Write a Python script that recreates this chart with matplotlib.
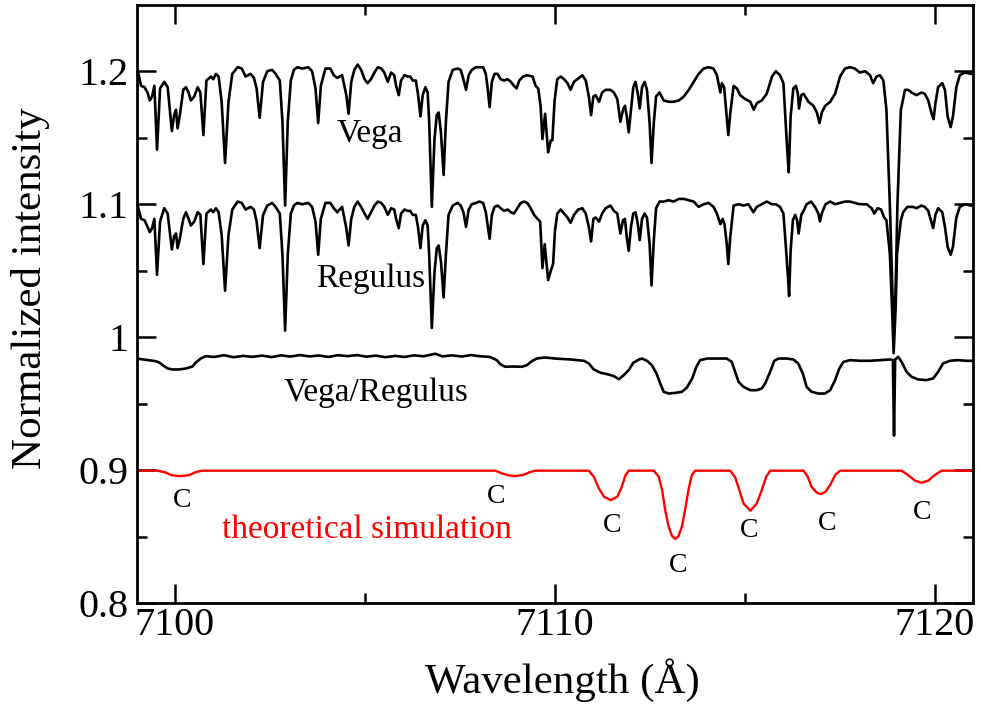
import matplotlib
matplotlib.use("Agg")
import matplotlib.pyplot as plt
from matplotlib.ticker import FixedLocator

plt.rcParams['font.family'] = ['Liberation Serif', 'DejaVu Serif']

# ---------------- data ----------------
vega_wl = [7099.03, 7099.12, 7099.21, 7099.29, 7099.35, 7099.41, 7099.47, 7099.54, 7099.62, 7099.73,
           7099.82, 7099.93, 7099.99, 7100.04, 7100.08, 7100.14, 7100.23, 7100.30, 7100.37, 7100.43,
           7100.52, 7100.61, 7100.68, 7100.76, 7100.84, 7100.96, 7101.02, 7101.09, 7101.16, 7101.24,
           7101.33, 7101.42, 7101.52, 7101.66, 7101.77, 7101.87, 7102.00, 7102.09, 7102.16, 7102.24,
           7102.33, 7102.44, 7102.57, 7102.66, 7102.77, 7102.84, 7102.91, 7102.98, 7103.06, 7103.14,
           7103.23, 7103.36, 7103.52, 7103.62, 7103.71, 7103.78, 7103.85, 7103.97, 7104.10, 7104.19,
           7104.28, 7104.41, 7104.52, 7104.58, 7104.65, 7104.73, 7104.82, 7104.91, 7105.00, 7105.08,
           7105.17, 7105.26, 7105.35, 7105.44, 7105.52, 7105.61, 7105.70, 7105.78, 7105.83, 7105.90,
           7105.96, 7106.05, 7106.14, 7106.20, 7106.27, 7106.35, 7106.41, 7106.47, 7106.53, 7106.60,
           7106.66, 7106.70, 7106.77, 7106.84, 7106.90, 7106.95, 7107.01, 7107.08, 7107.14, 7107.21,
           7107.32, 7107.45, 7107.53, 7107.60, 7107.67, 7107.74, 7107.82, 7107.93, 7108.02, 7108.12,
           7108.19, 7108.24, 7108.29, 7108.35, 7108.42, 7108.50, 7108.58, 7108.67, 7108.76, 7108.85,
           7108.93, 7109.00, 7109.07, 7109.17, 7109.28, 7109.42, 7109.50, 7109.57, 7109.63, 7109.68,
           7109.75, 7109.83, 7109.90, 7109.94, 7110.00, 7110.07, 7110.16, 7110.25, 7110.34, 7110.42,
           7110.51, 7110.60, 7110.73, 7110.82, 7110.90, 7110.96, 7111.02, 7111.08, 7111.17, 7111.25,
           7111.34, 7111.47, 7111.56, 7111.65, 7111.73, 7111.80, 7111.85, 7111.90, 7111.95, 7112.01,
           7112.07, 7112.13, 7112.19, 7112.24, 7112.30, 7112.37, 7112.43, 7112.50, 7112.55, 7112.61,
           7112.67, 7112.76, 7112.87, 7113.00, 7113.13, 7113.27, 7113.40, 7113.53, 7113.66, 7113.79,
           7113.92, 7114.05, 7114.18, 7114.27, 7114.36, 7114.40, 7114.46, 7114.52, 7114.57, 7114.62,
           7114.71, 7114.80, 7114.88, 7115.02, 7115.15, 7115.24, 7115.32, 7115.45, 7115.58, 7115.72,
           7115.82, 7115.93, 7116.02, 7116.07, 7116.12, 7116.16, 7116.21, 7116.28, 7116.35, 7116.40,
           7116.43, 7116.49, 7116.55, 7116.68, 7116.81, 7116.90, 7116.97, 7117.03, 7117.12, 7117.25,
           7117.38, 7117.51, 7117.64, 7117.77, 7117.90, 7118.03, 7118.17, 7118.30, 7118.38, 7118.47,
           7118.56, 7118.65, 7118.73, 7118.82, 7118.89, 7118.92, 7118.97, 7119.02, 7119.11, 7119.22,
           7119.30, 7119.39, 7119.52, 7119.65, 7119.74, 7119.83, 7119.92, 7119.97, 7120.02, 7120.09,
           7120.20, 7120.27, 7120.34, 7120.42, 7120.48, 7120.57, 7120.66, 7120.79, 7120.96]
vega_int = [1.201, 1.189, 1.188, 1.184, 1.178, 1.181, 1.189, 1.141, 1.187, 1.192,
            1.188, 1.155, 1.167, 1.171, 1.157, 1.167, 1.186, 1.188, 1.184, 1.178,
            1.181, 1.188, 1.184, 1.152, 1.193, 1.196, 1.194, 1.198, 1.196, 1.177,
            1.131, 1.177, 1.198, 1.203, 1.202, 1.196, 1.198, 1.195, 1.187, 1.165,
            1.192, 1.200, 1.201, 1.198, 1.193, 1.162, 1.099, 1.162, 1.193, 1.201,
            1.203, 1.202, 1.203, 1.200, 1.187, 1.161, 1.189, 1.202, 1.202, 1.197,
            1.195, 1.197, 1.182, 1.168, 1.192, 1.201, 1.205, 1.201, 1.194, 1.191,
            1.194, 1.199, 1.203, 1.202, 1.199, 1.192, 1.199, 1.197, 1.189, 1.182,
            1.193, 1.197, 1.196, 1.196, 1.193, 1.193, 1.182, 1.166, 1.182, 1.188,
            1.184, 1.162, 1.098, 1.149, 1.167, 1.169, 1.154, 1.122, 1.162, 1.192,
            1.201, 1.202, 1.201, 1.194, 1.186, 1.197, 1.201, 1.203, 1.203, 1.203,
            1.198, 1.187, 1.173, 1.192, 1.198, 1.198, 1.194, 1.193, 1.194, 1.192,
            1.189, 1.187, 1.193, 1.196, 1.197, 1.196, 1.189, 1.187, 1.174, 1.149,
            1.168, 1.139, 1.148, 1.148, 1.178, 1.194, 1.196, 1.194, 1.191, 1.186,
            1.192, 1.194, 1.197, 1.193, 1.181, 1.167, 1.181, 1.182, 1.177, 1.184,
            1.186, 1.186, 1.184, 1.179, 1.162, 1.171, 1.174, 1.166, 1.154, 1.171,
            1.188, 1.192, 1.183, 1.172, 1.188, 1.192, 1.186, 1.161, 1.131, 1.161,
            1.181, 1.184, 1.178, 1.177, 1.177, 1.178, 1.181, 1.186, 1.192, 1.198,
            1.202, 1.203, 1.202, 1.197, 1.184, 1.191, 1.188, 1.168, 1.152, 1.168,
            1.189, 1.187, 1.182, 1.179, 1.177, 1.171, 1.176, 1.178, 1.183, 1.196,
            1.200, 1.197, 1.191, 1.166, 1.141, 1.124, 1.166, 1.187, 1.189, 1.183,
            1.172, 1.182, 1.183, 1.177, 1.174, 1.169, 1.161, 1.169, 1.174, 1.177,
            1.183, 1.196, 1.202, 1.203, 1.202, 1.199, 1.200, 1.197, 1.191, 1.196,
            1.197, 1.193, 1.171, 1.100, 1.033, 1.008, 1.033, 1.100, 1.171, 1.186,
            1.186, 1.184, 1.182, 1.184, 1.183, 1.178, 1.168, 1.164, 1.176, 1.188,
            1.191, 1.186, 1.166, 1.158, 1.166, 1.188, 1.197, 1.199, 1.198]

regulus_wl = [7099.03, 7099.12, 7099.21, 7099.29, 7099.35, 7099.41, 7099.47, 7099.54, 7099.62, 7099.73,
              7099.82, 7099.93, 7099.99, 7100.04, 7100.08, 7100.14, 7100.23, 7100.30, 7100.37, 7100.43,
              7100.52, 7100.61, 7100.68, 7100.76, 7100.84, 7100.96, 7101.02, 7101.09, 7101.16, 7101.24,
              7101.33, 7101.42, 7101.52, 7101.66, 7101.77, 7101.87, 7102.00, 7102.09, 7102.16, 7102.24,
              7102.33, 7102.44, 7102.57, 7102.66, 7102.77, 7102.84, 7102.91, 7102.98, 7103.06, 7103.14,
              7103.23, 7103.36, 7103.52, 7103.62, 7103.71, 7103.78, 7103.85, 7103.97, 7104.10, 7104.19,
              7104.28, 7104.41, 7104.52, 7104.58, 7104.65, 7104.73, 7104.82, 7104.91, 7105.00, 7105.08,
              7105.17, 7105.26, 7105.35, 7105.44, 7105.52, 7105.61, 7105.70, 7105.78, 7105.83, 7105.90,
              7105.96, 7106.05, 7106.14, 7106.20, 7106.27, 7106.35, 7106.41, 7106.47, 7106.53, 7106.60,
              7106.66, 7106.70, 7106.77, 7106.84, 7106.90, 7106.95, 7107.01, 7107.08, 7107.14, 7107.21,
              7107.32, 7107.45, 7107.53, 7107.60, 7107.67, 7107.74, 7107.82, 7107.93, 7108.02, 7108.12,
              7108.19, 7108.24, 7108.29, 7108.35, 7108.42, 7108.50, 7108.58, 7108.67, 7108.76, 7108.85,
              7108.93, 7109.02, 7109.11, 7109.20, 7109.28, 7109.37, 7109.46, 7109.55, 7109.62, 7109.68,
              7109.74, 7109.83, 7109.90, 7109.96, 7110.01, 7110.07, 7110.16, 7110.25, 7110.34, 7110.42,
              7110.51, 7110.62, 7110.73, 7110.82, 7110.90, 7110.96, 7111.02, 7111.08, 7111.17, 7111.25,
              7111.34, 7111.47, 7111.56, 7111.65, 7111.73, 7111.80, 7111.85, 7111.90, 7111.95, 7112.01,
              7112.07, 7112.13, 7112.19, 7112.24, 7112.30, 7112.37, 7112.43, 7112.50, 7112.55, 7112.61,
              7112.67, 7112.76, 7112.87, 7113.00, 7113.13, 7113.27, 7113.40, 7113.53, 7113.66, 7113.79,
              7113.92, 7114.05, 7114.18, 7114.27, 7114.36, 7114.42, 7114.47, 7114.53, 7114.57, 7114.62,
              7114.71, 7114.84, 7114.97, 7115.10, 7115.23, 7115.32, 7115.45, 7115.58, 7115.72, 7115.82,
              7115.93, 7116.02, 7116.08, 7116.14, 7116.17, 7116.21, 7116.27, 7116.33, 7116.38, 7116.42,
              7116.49, 7116.55, 7116.63, 7116.75, 7116.85, 7116.94, 7116.98, 7117.04, 7117.13, 7117.25,
              7117.38, 7117.51, 7117.64, 7117.77, 7117.90, 7118.03, 7118.21, 7118.34, 7118.41, 7118.50,
              7118.59, 7118.67, 7118.73, 7118.82, 7118.88, 7118.92, 7118.97, 7119.01, 7119.11, 7119.17,
              7119.28, 7119.43, 7119.52, 7119.65, 7119.74, 7119.83, 7119.90, 7119.96, 7120.02, 7120.09,
              7120.20, 7120.27, 7120.34, 7120.42, 7120.48, 7120.57, 7120.66, 7120.79, 7120.96]
regulus_int = [1.099, 1.089, 1.088, 1.083, 1.079, 1.082, 1.089, 1.047, 1.087, 1.097,
               1.093, 1.066, 1.076, 1.078, 1.067, 1.074, 1.089, 1.094, 1.089, 1.084,
               1.087, 1.094, 1.092, 1.055, 1.093, 1.096, 1.094, 1.097, 1.094, 1.077,
               1.035, 1.077, 1.096, 1.102, 1.101, 1.096, 1.098, 1.096, 1.087, 1.067,
               1.092, 1.099, 1.101, 1.098, 1.093, 1.062, 1.005, 1.062, 1.093, 1.099,
               1.101, 1.100, 1.101, 1.098, 1.087, 1.062, 1.089, 1.101, 1.101, 1.097,
               1.094, 1.098, 1.082, 1.069, 1.089, 1.098, 1.102, 1.098, 1.093, 1.089,
               1.094, 1.099, 1.102, 1.101, 1.098, 1.092, 1.097, 1.096, 1.089, 1.082,
               1.093, 1.096, 1.095, 1.095, 1.092, 1.092, 1.082, 1.067, 1.084, 1.088,
               1.084, 1.062, 1.007, 1.049, 1.067, 1.069, 1.057, 1.030, 1.062, 1.092,
               1.099, 1.101, 1.099, 1.094, 1.083, 1.096, 1.100, 1.101, 1.102, 1.101,
               1.094, 1.084, 1.074, 1.092, 1.098, 1.099, 1.097, 1.095, 1.096, 1.094,
               1.093, 1.097, 1.101, 1.102, 1.101, 1.097, 1.092, 1.089, 1.087, 1.052,
               1.070, 1.043, 1.050, 1.055, 1.080, 1.093, 1.096, 1.093, 1.090, 1.086,
               1.092, 1.096, 1.097, 1.093, 1.083, 1.072, 1.089, 1.090, 1.087, 1.093,
               1.097, 1.099, 1.095, 1.093, 1.078, 1.088, 1.089, 1.075, 1.065, 1.083,
               1.093, 1.094, 1.085, 1.073, 1.089, 1.093, 1.090, 1.070, 1.039, 1.073,
               1.097, 1.102, 1.102, 1.103, 1.102, 1.104, 1.104, 1.103, 1.102, 1.098,
               1.100, 1.101, 1.098, 1.093, 1.085, 1.089, 1.085, 1.070, 1.055, 1.075,
               1.099, 1.100, 1.099, 1.100, 1.094, 1.098, 1.100, 1.102, 1.100, 1.100,
               1.098, 1.093, 1.070, 1.045, 1.031, 1.065, 1.088, 1.092, 1.088, 1.078,
               1.092, 1.095, 1.100, 1.102, 1.098, 1.093, 1.087, 1.094, 1.100, 1.102,
               1.100, 1.101, 1.102, 1.102, 1.101, 1.100, 1.100, 1.097, 1.093, 1.097,
               1.096, 1.090, 1.088, 1.063, 1.020, 0.988, 1.020, 1.063, 1.088, 1.094,
               1.098, 1.098, 1.097, 1.099, 1.098, 1.095, 1.088, 1.082, 1.092, 1.097,
               1.094, 1.083, 1.068, 1.062, 1.068, 1.090, 1.098, 1.100, 1.099]

ratio_wl = [7099.00, 7099.25, 7099.51, 7099.60, 7099.69, 7099.82, 7099.95, 7100.12, 7100.30, 7100.47,
            7100.56, 7100.69, 7100.82, 7101.05, 7101.30, 7101.55, 7101.80, 7102.05, 7102.30, 7102.55,
            7102.80, 7103.05, 7103.30, 7103.55, 7103.80, 7104.05, 7104.30, 7104.55, 7104.80, 7105.05,
            7105.30, 7105.55, 7105.80, 7106.05, 7106.30, 7106.55, 7106.86, 7107.05, 7107.30, 7107.55,
            7107.80, 7108.05, 7108.30, 7108.48, 7108.57, 7108.70, 7108.90, 7109.14, 7109.27, 7109.40,
            7109.53, 7109.75, 7110.01, 7110.42, 7110.77, 7110.90, 7111.03, 7111.21, 7111.38, 7111.56,
            7111.69, 7111.82, 7111.95, 7112.07, 7112.22, 7112.30, 7112.43, 7112.56, 7112.68, 7112.78,
            7112.87, 7113.00, 7113.18, 7113.35, 7113.48, 7113.62, 7113.73, 7113.83, 7114.01, 7114.27,
            7114.53, 7114.66, 7114.75, 7114.84, 7114.97, 7115.15, 7115.32, 7115.45, 7115.54, 7115.67,
            7115.78, 7115.89, 7116.11, 7116.28, 7116.41, 7116.53, 7116.63, 7116.76, 7116.94, 7117.11,
            7117.25, 7117.38, 7117.49, 7117.60, 7117.77, 7118.03, 7118.30, 7118.56, 7118.82, 7118.90,
            7118.93, 7118.96, 7119.04, 7119.13, 7119.26, 7119.39, 7119.56, 7119.78, 7119.96, 7120.09,
            7120.22, 7120.40, 7120.61, 7120.83, 7121.00]
ratio_int = [0.9840, 0.9830, 0.9820, 0.9810, 0.9790, 0.9765, 0.9758, 0.9758, 0.9765, 0.9780,
             0.9810, 0.9840, 0.9858, 0.9852, 0.9865, 0.9850, 0.9860, 0.9853, 0.9862, 0.9851,
             0.9864, 0.9855, 0.9866, 0.9856, 0.9863, 0.9852, 0.9865, 0.9858, 0.9866, 0.9854,
             0.9862, 0.9850, 0.9860, 0.9852, 0.9864, 0.9857, 0.9876, 0.9856, 0.9864, 0.9855,
             0.9866, 0.9857, 0.9852, 0.9828, 0.9798, 0.9778, 0.9780, 0.9778, 0.9790, 0.9820,
             0.9840, 0.9848, 0.9840, 0.9833, 0.9823, 0.9803, 0.9758, 0.9733, 0.9723, 0.9708,
             0.9685, 0.9715, 0.9753, 0.9808, 0.9833, 0.9840, 0.9823, 0.9790, 0.9728, 0.9652,
             0.9590, 0.9577, 0.9582, 0.9590, 0.9622, 0.9690, 0.9778, 0.9828, 0.9840, 0.9840,
             0.9840, 0.9815, 0.9740, 0.9665, 0.9627, 0.9602, 0.9602, 0.9615, 0.9652, 0.9740,
             0.9823, 0.9840, 0.9840, 0.9833, 0.9803, 0.9728, 0.9627, 0.9590, 0.9577, 0.9577,
             0.9602, 0.9678, 0.9765, 0.9815, 0.9828, 0.9823, 0.9823, 0.9828, 0.9833, 0.9828,
             0.9260, 0.9833, 0.9853, 0.9815, 0.9740, 0.9703, 0.9683, 0.9678, 0.9690, 0.9740,
             0.9803, 0.9823, 0.9828, 0.9823, 0.9823]

sim_wl = [7099.00, 7099.55, 7099.75, 7099.92, 7100.15, 7100.38, 7100.55, 7100.72,
          7108.44, 7108.61, 7108.79, 7108.96, 7109.18, 7109.35, 7109.49,
          7110.90, 7111.03, 7111.165, 7111.30, 7111.47, 7111.65, 7111.76, 7111.86, 7111.95,
          7112.61, 7112.74, 7112.83, 7112.91, 7113.00, 7113.09, 7113.18, 7113.26, 7113.35, 7113.44,
          7113.53, 7113.61, 7113.70,
          7114.62, 7114.75, 7114.86, 7114.97, 7115.15, 7115.32, 7115.45, 7115.57, 7115.67,
          7116.55, 7116.66, 7116.76, 7116.90, 7117.01, 7117.13, 7117.25, 7117.38, 7117.51,
          7119.13, 7119.30, 7119.48, 7119.65, 7119.83, 7120.00, 7120.18, 7121.00]
sim_int = [0.8997, 0.8997, 0.8985, 0.8963, 0.8956, 0.8963, 0.8985, 0.8997,
           0.8997, 0.8977, 0.8962, 0.8956, 0.8966, 0.8986, 0.8997,
           0.8997, 0.8952, 0.8864, 0.8801, 0.8776, 0.8801, 0.8870, 0.8960, 0.8997,
           0.8997, 0.8952, 0.8851, 0.8701, 0.8576, 0.8506, 0.8483, 0.8506, 0.8576, 0.8714,
           0.8864, 0.8964, 0.8997,
           0.8997, 0.8947, 0.8851, 0.8751, 0.8696, 0.8751, 0.8851, 0.8952, 0.8997,
           0.8997, 0.8952, 0.8876, 0.8831, 0.8821, 0.8839, 0.8889, 0.8964, 0.8997,
           0.8997, 0.8964, 0.8922, 0.8906, 0.8922, 0.8964, 0.8997, 0.8997]

c_label_wl = [7100.19, 7108.46, 7111.51, 7113.24, 7115.12, 7117.18, 7119.67]
c_label_int = [0.8727, 0.8751, 0.8539, 0.8233, 0.8501, 0.8551, 0.8633]

x_ticks = [7100, 7110, 7120]
x_minor = [7105, 7115]
y_ticks = [0.8, 0.9, 1.0, 1.1, 1.2]
y_tick_labels = ["0.8", "0.9", "1", "1.1", "1.2"]
y_minor = [0.85, 0.95, 1.05, 1.15]

# ---------------- figure ----------------
W, H = 981, 704
fig = plt.figure(figsize=(W / 100, H / 100), dpi=100)
L, R, B, T = 136.5, 972.7, 603.3, 4.7
ax = fig.add_axes([L / W, 1 - B / H, (R - L) / W, (B - T) / H])

lw = 1.9
ax.plot(vega_wl, vega_int, color='black', lw=lw, solid_joinstyle='round')
ax.plot(regulus_wl, regulus_int, color='black', lw=lw, solid_joinstyle='round')
ax.plot(ratio_wl, ratio_int, color='black', lw=lw, solid_joinstyle='round')
ax.plot(sim_wl, sim_int, color='#ff0000', lw=1.7, solid_joinstyle='round')

ax.set_xlim(7099.0, 7121.0)
ax.set_ylim(0.8, 1.25)

ax.xaxis.set_major_locator(FixedLocator(x_ticks))
ax.xaxis.set_minor_locator(FixedLocator(x_minor))
ax.set_xticklabels([str(t) for t in x_ticks])
ax.yaxis.set_major_locator(FixedLocator(y_ticks))
ax.yaxis.set_minor_locator(FixedLocator(y_minor))
ax.set_yticklabels(y_tick_labels)

ax.tick_params(which='both', direction='in', top=True, right=True, width=1.8, labelsize=29)
ax.tick_params(which='major', length=13.5)
ax.tick_params(which='minor', length=7)
ax.tick_params(axis='x', which='major', pad=3)
ax.tick_params(axis='y', which='major', pad=6)
for s in ax.spines.values():
    s.set_linewidth(2.0)

# labels
fig.text(562 / W, 1 - 693 / H, 'Wavelength (Å)', fontsize=31, ha='center', va='baseline')
fig.text(31 / W, 1 - 288 / H, 'Normalized intensity', fontsize=31, rotation=90,
         ha='center', va='center')

ax.text(7105.13, 1.1468, 'Vega', fontsize=24, ha='center', va='baseline')
ax.text(7105.15, 1.0379, 'Regulus', fontsize=24, ha='center', va='baseline')
ax.text(7105.29, 0.9520, 'Vega/Regulus', fontsize=24, ha='center', va='baseline')
ax.text(7105.05, 0.8493, 'theoretical simulation', fontsize=24, ha='center', va='baseline',
        color='#ff0000')
for xw, yi in zip(c_label_wl, c_label_int):
    ax.text(xw, yi, 'C', fontsize=20, ha='center', va='baseline')

fig.savefig('out.png', dpi=100)
